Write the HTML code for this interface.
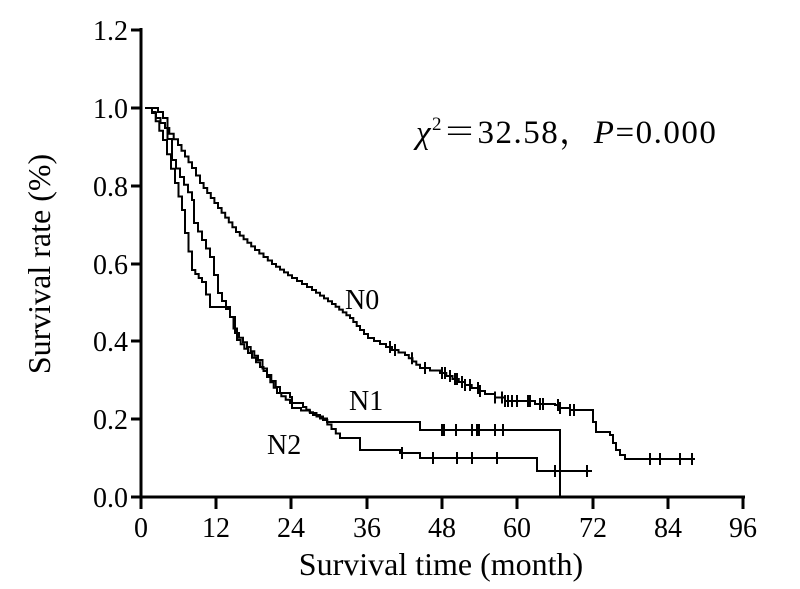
<!DOCTYPE html>
<html><head><meta charset="utf-8"><style>
html,body{margin:0;padding:0;background:#fff;width:800px;height:589px;overflow:hidden}
svg text{font-family:"Liberation Serif","Noto Serif CJK SC",serif;fill:#000}
</style></head><body>
<svg id="s" width="800" height="589" viewBox="0 0 800 589" xmlns="http://www.w3.org/2000/svg">
<g stroke="#000" stroke-width="3" fill="none">
<path d="M141 28 V497 H745"/>
<path d="M131 30 H141 M131 108 H141 M131 186 H141 M131 264 H141 M131 341 H141 M131 419 H141 M131 497 H141"/>
<path d="M141 497 V509 M216 497 V509 M291 497 V509 M367 497 V509 M442 497 V509 M517 497 V509 M593 497 V509 M668 497 V509 M743 497 V509"/>
</g>
<g font-size="28" text-anchor="end">
<text x="128" y="40">1.2</text><text x="128" y="118">1.0</text><text x="128" y="196">0.8</text>
<text x="128" y="274">0.6</text><text x="128" y="351">0.4</text><text x="128" y="429">0.2</text><text x="128" y="507">0.0</text>
</g>
<g font-size="28" text-anchor="middle">
<text x="141" y="537">0</text><text x="216" y="537">12</text><text x="291" y="537">24</text><text x="367" y="537">36</text>
<text x="442" y="537">48</text><text x="517" y="537">60</text><text x="593" y="537">72</text><text x="668" y="537">84</text><text x="743" y="537">96</text>
</g>
<text x="441" y="575" font-size="32" text-anchor="middle">Survival time (month)</text>
<text transform="translate(50,264) rotate(-90)" font-size="32" text-anchor="middle">Survival rate (%)</text>
<text x="416" y="143" font-size="33" letter-spacing="1.5"><tspan font-style="italic">χ</tspan><tspan font-size="19" dy="-13">2</tspan><tspan dy="13">＝32.58，</tspan><tspan font-style="italic">P</tspan>=0.000</text>
<text x="345" y="309" font-size="28">N0</text>
<text x="349" y="410" font-size="28">N1</text>
<text x="267" y="454" font-size="28">N2</text>
<g id="c" stroke="#000" stroke-width="2" fill="none"></g>
</svg>
<script>
function expand(p){var o=[p[0]];for(var i=1;i<p.length;i++){var a=p[i-1],b=p[i];var dx=b[0]-a[0],dy=b[1]-a[1];var n=Math.max(1,Math.min(Math.round(dx/4),Math.round(Math.abs(dy)/3)));for(var k=1;k<=n;k++){o.push([a[0]+dx*k/n,a[1]+dy*k/n]);}}return o;}
function step(p){var d="M"+p[0][0].toFixed(1)+" "+p[0][1].toFixed(1);for(var i=1;i<p.length;i++){d+=" H"+p[i][0].toFixed(1)+" V"+p[i][1].toFixed(1);}return d;}
function yat(p,x){var y=p[0][1];for(var i=1;i<p.length;i++){if(p[i][0]<=x)y=p[i][1];else break;}return y;}
var n0=[[148,108],[156,118],[165,128],[178,145],[192,168],[200,183],[218,208],[236,232],[255,250],[272,264],[292,278],[312,290],[332,304],[350,318],[360,330],[368,338],[392,350],[405,355],[420,368],[440,373],[465,385],[485,394],[505,401],[535,404],[555,405],[560,408],[570,410],[591,410],[593,422],[596,432],[610,435],[613,443],[616,450],[620,455],[625,459],[695,459]];
var n1=[[152,108],[158,112],[163,118],[172,160],[180,177],[192,200],[194,223],[210,257],[218,293],[230,317],[235,333],[247,347],[258,360],[267,377],[277,393],[290,403],[303,407],[313,415],[327,422],[420,422],[420,430],[560,430],[560,497]];
var n2=[[145,108],[152,112],[163,140],[175,183],[182,210],[185,233],[192,270],[202,282],[210,307],[227,307],[230,317],[237,340],[248,353],[260,367],[267,375],[280,393],[290,397],[292,408],[310,413],[323,420],[340,438],[360,450],[397,450],[400,453],[420,453],[420,458],[537,458],[537,471],[592,471]];
var E0=expand(n0.slice(0,-1)).concat([n0[n0.length-1]]);
var E1=expand(n1.slice(0,19)).concat(n1.slice(19));
var E2=expand(n2.slice(0,21)).concat(n2.slice(21));
var g=document.getElementById("c"),h="";
[E0,E1,E2].forEach(function(p){h+='<path d="'+step(p)+'"/>';});
function ticks(p,xs){xs.forEach(function(x){var y=yat(p,x);h+='<path d="M'+x+' '+(y-6)+' V'+(y+6)+'"/>';});}
ticks(E0,[390,395,412,425,442,445,450,455,457,462,465,470,478,480,495,502,505,508,512,517,528,530,540,543,558,560,570,574,650,660,680,692]);
ticks(E1,[442,444,456,472,477,479,495,503]);
ticks(E2,[402,433,457,472,497,555,587]);
g.innerHTML=h;
</script>
</body></html>
